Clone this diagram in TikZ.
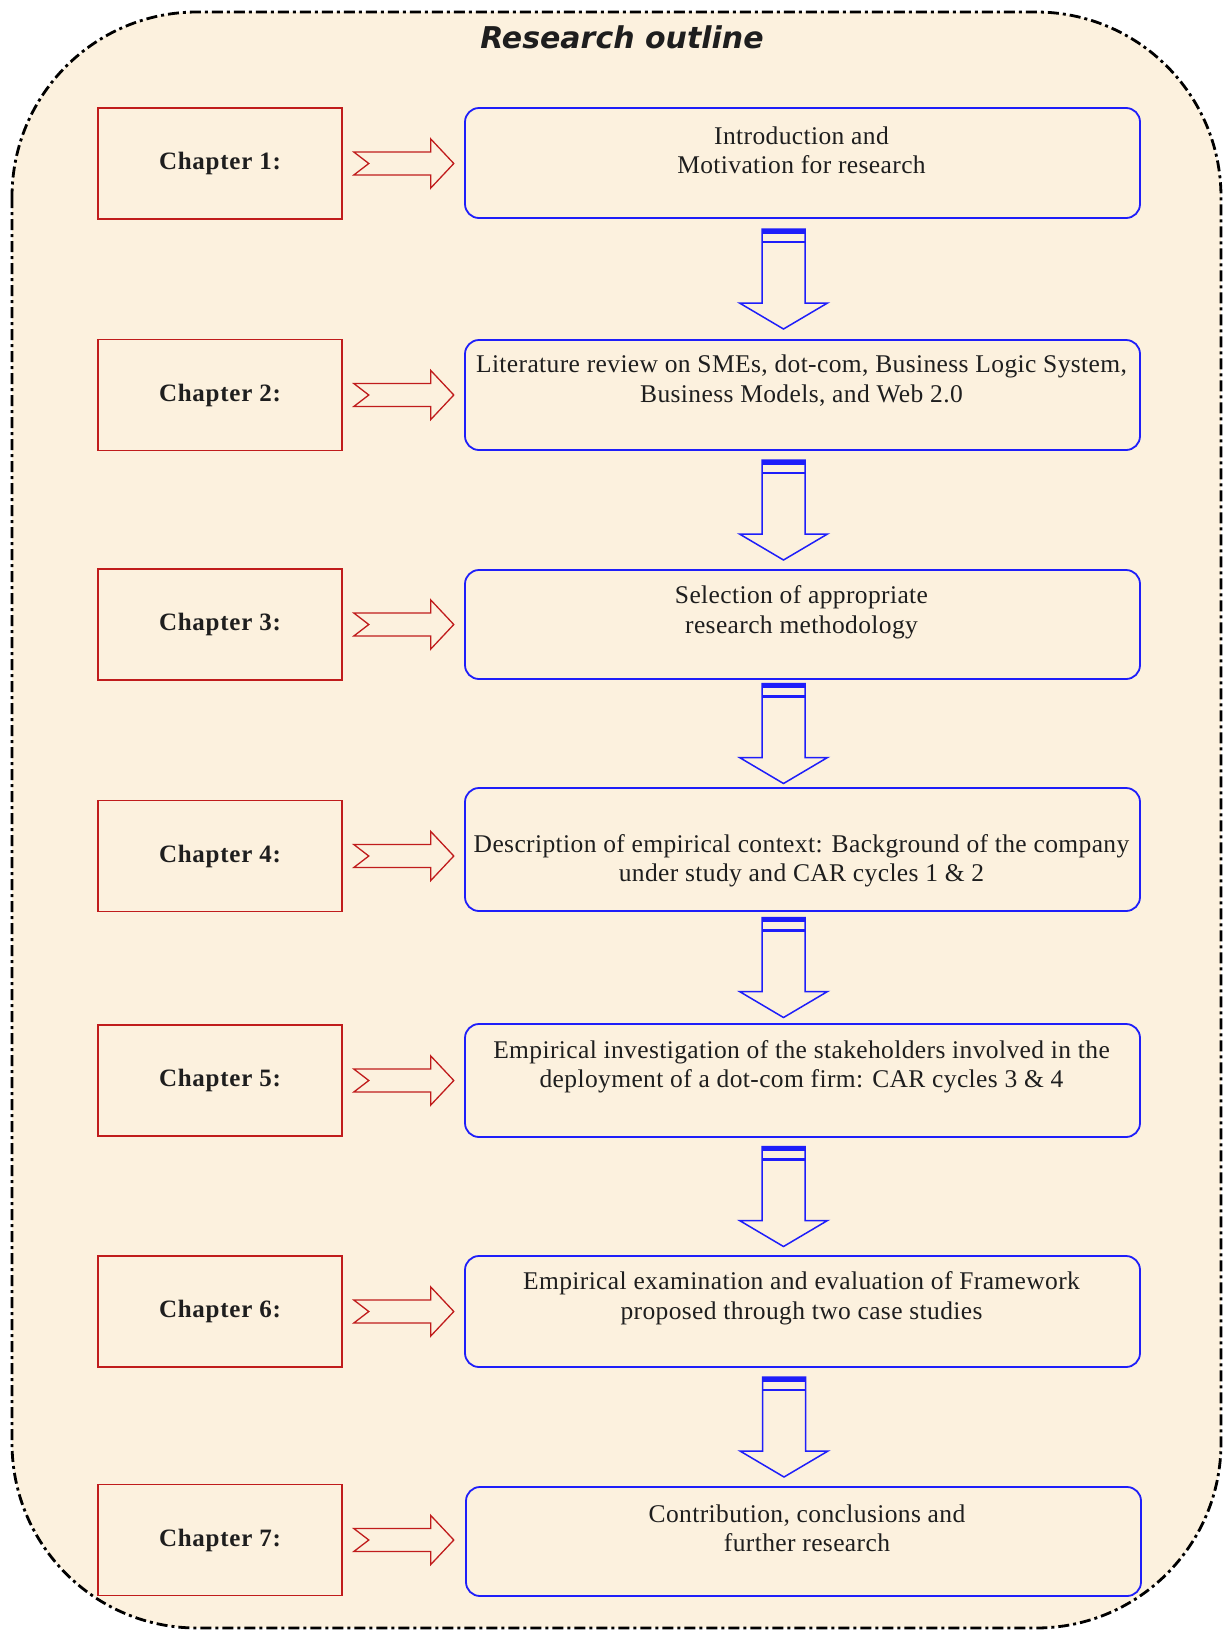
\documentclass[tikz,border=0pt]{standalone}
\usepackage{fontspec}
\setmainfont{Liberation Serif}
\newfontfamily\headfont{DejaVu Sans}
\usetikzlibrary{calc}

\definecolor{paper}{RGB}{252,241,222}
\definecolor{chapred}{RGB}{192,28,28}
\definecolor{flowblue}{RGB}{30,30,250}
\definecolor{ink}{RGB}{30,30,30}

\tikzset{
  chapbox/.style={draw=chapred, line width=1.6pt, minimum width=244pt,
    minimum height=111pt, inner sep=0pt, text=ink,
    font=\fontsize{25}{29}\selectfont\bfseries\addfontfeature{LetterSpace=3}},
  stagebox/.style={draw=flowblue, line width=1.8pt, rounded corners=14pt,
    minimum width=675pt, inner sep=0pt},
  stagetext/.style={align=center, inner sep=0pt, text=ink,
    font=\fontsize{25.5}{29.5}\selectfont\addfontfeature{LetterSpace=1.5}},
  sidearrow/.pic={
    \draw[chapred, line width=1.3pt, line join=miter]
      (0,-11.5) -- (77,-11.5) -- (77,-24.5) -- (100,0) -- (77,24.5)
      -- (77,11.5) -- (0,11.5) -- (15,0) -- cycle;},
  downarrow/.pic={
    \fill[flowblue] (-21.5,-50) rectangle (21.5,-45.5);
    \draw[flowblue, line width=2.4pt] (-21.5,-37) -- (21.5,-37);
    \draw[flowblue, line width=1.5pt, line join=miter]
      (-21.5,-50) -- (-21.5,24) -- (-44,24) -- (0,50) -- (44,24)
      -- (21.5,24) -- (21.5,-50) -- cycle;},
}

\begin{document}
\begin{tikzpicture}[x=1pt, y=-1pt]
  \useasboundingbox (0,0) rectangle (1223,1631);

  % rounded panel behind the outline
  \fill[paper, rounded corners=185pt] (12,12) rectangle (1221,1628);
  \draw[black, line width=2.8pt, rounded corners=185pt,
        dash pattern=on 11pt off 4pt on 3pt off 4pt]
        (12,12) rectangle (1221,1628);

  \node[font=\headfont\fontsize{30}{34}\selectfont\bfseries\itshape, text=ink]
    (title) at (622,37) {Research outline};

  % chapter labels
  \node[chapbox] (r1) at (220,163.5) {Chapter 1:};
  \node[chapbox] (r2) at (220,395)   {Chapter 2:};
  \node[chapbox] (r3) at (220,624.5) {Chapter 3:};
  \node[chapbox] (r4) at (220,856)   {Chapter 4:};
  \node[chapbox] (r5) at (220,1080.5){Chapter 5:};
  \node[chapbox] (r6) at (220,1311.5){Chapter 6:};
  \node[chapbox] (r7) at (220,1540)  {Chapter 7:};

  % stage boxes
  \node[stagebox, minimum height=110pt] (b1) at (802.5,163)    {};
  \node[stagebox, minimum height=110pt] (b2) at (802.5,395)    {};
  \node[stagebox, minimum height=109pt] (b3) at (802.5,624.5)  {};
  \node[stagebox, minimum height=123pt] (b4) at (802.5,849.5)  {};
  \node[stagebox, minimum height=113pt] (b5) at (802.5,1080.5) {};
  \node[stagebox, minimum height=111pt] (b6) at (802.5,1311.5) {};
  \node[stagebox, minimum height=109pt] (b7) at (803.5,1541.5) {};

  % stage texts
  \node[stagetext] (t1) at ($(b1.center)+(-1,-12.5)$)
    {Introduction and\\Motivation for research};
  \node[stagetext] (t2) at ($(b2.center)+(-1,-14.5)$)
    {Literature review on SMEs, dot-com, Business Logic System,\\Business Models, and Web 2.0};
  \node[stagetext] (t3) at ($(b3.center)+(-1,-12)$)
    {Selection of appropriate\\research methodology};
  \node[stagetext] (t4) at ($(b4.center)+(-1,11.5)$)
    {Description of empirical context: Background of the company\\under study and CAR cycles 1 \& 2};
  \node[stagetext] (t5) at ($(b5.center)+(-1,-13.5)$)
    {Empirical investigation of the stakeholders involved in the\\deployment of a dot-com firm: CAR cycles 3 \& 4};
  \node[stagetext] (t6) at ($(b6.center)+(-1,-13)$)
    {Empirical examination and evaluation of Framework\\proposed through two case studies};
  \node[stagetext] (t7) at ($(b7.center)+(3.5,-13)$)
    {Contribution, conclusions and\\further research};

  % chapter -> stage arrows
  \foreach \i in {1,...,7}
    \pic at ($(r\i.east)+(11,0)$) {sidearrow};

  % stage -> next stage arrows
  \foreach \i/\j in {1/2,2/3,3/4,4/5,5/6,6/7}
    \pic at ($($(b\i.south)!0.5!(b\j.north)$)+(-19,0)$) {downarrow};
\end{tikzpicture}
\end{document}
